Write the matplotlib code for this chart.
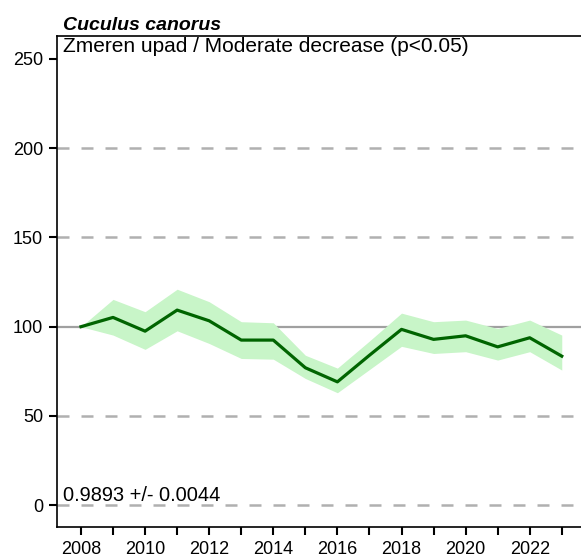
import numpy as np
import matplotlib
matplotlib.use('Agg')
from matplotlib import pyplot as plt

plt.rcParams['font.family'] = ['Liberation Sans', 'DejaVu Sans']

years = list(range(2008, 2024))
index = [100, 105.2, 97.5, 109.3, 103.3, 92.5, 92.5, 77, 69.1, 84, 98.5, 92.9, 94.9, 88.7, 93.8, 83.5]
upper = [100, 115.3, 108.4, 121, 114, 102.8, 102.2, 84, 76.8, 92, 107.6, 102.8, 103.7, 99, 103.7, 95.3]
lower = [100, 95.3, 87.3, 97.7, 90.6, 82.2, 81.8, 71, 63, 76, 89, 85, 86, 81.3, 86, 75.7]

species = 'Cuculus canorus'
trend = 'Zmeren upad / Moderate decrease (p<0.05)'
slope = '0.9893 +/- 0.0044'
yticks = [0, 50, 100, 150, 200, 250]

fig = plt.figure(figsize=(5.81, 5.59), dpi=100)
ax = fig.add_axes([0.098, 0.057, 0.902, 0.879])

for y in [0, 50, 150, 200]:
    ax.axhline(y, color='#b0b0b0', lw=1.8, ls=(0, (4.8, 4.8)), zorder=1)
ax.axhline(100, color='#a0a0a0', lw=1.6, zorder=1)

ax.fill_between(years, lower, upper, color='#c8f5c8', lw=0, zorder=2)
ax.plot(years, index, color='#006400', lw=2.3, zorder=3)

ax.set_xlim(2007.25, 2023.6)
ax.set_ylim(-12.3, 263)
ax.set_yticks(yticks)
ax.set_xticks(years)
ax.set_xticklabels([str(y) if y % 2 == 0 else '' for y in years])

ax.spines['right'].set_visible(False)
for s in ['left', 'bottom', 'top']:
    ax.spines[s].set_linewidth(1.2)
ax.tick_params(direction='out', length=6, width=1.5, labelsize=13, pad=4)

ax.text(0.012, 0.997, trend, transform=ax.transAxes, ha='left', va='top', fontsize=15)
ax.text(0.012, 0.045, slope, transform=ax.transAxes, ha='left', va='bottom', fontsize=14.4)
ax.text(0.012, 1.003, species, transform=ax.transAxes, ha='left', va='bottom', fontsize=14,
        fontweight='bold', fontstyle='italic')

fig.savefig('out.png', dpi=100)
